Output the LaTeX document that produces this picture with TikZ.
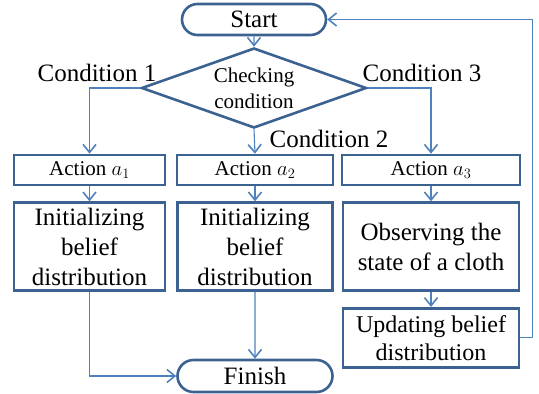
\documentclass[tikz,border=0pt]{standalone}
\usepackage{fontspec}
\setmainfont{Liberation Serif}
\usetikzlibrary{positioning,arrows.meta,shapes.geometric,shapes.misc}
\definecolor{boxblue}{RGB}{60,98,145}
\definecolor{lineblue}{RGB}{79,129,189}
\tikzset{
    block/.style = {
        draw=boxblue,
        shape=rectangle,
        line width=2.6pt,
        inner sep=0pt,
        align=center,
        font=\fontsize{25}{30}\selectfont
    },
    actbox/.style = {
        block,
        minimum height=30pt,
        font=\fontsize{21}{24}\selectfont
    },
    terminal/.style = {
        draw=boxblue,
        shape=rounded rectangle,
        line width=2.6pt,
        inner sep=0pt,
        font=\fontsize{25}{30}\selectfont
    },
    decision/.style = {
        draw=boxblue,
        shape=diamond,
        aspect=2.8,
        line width=2.6pt,
        inner sep=0pt,
        align=center,
        font=\fontsize{21}{26}\selectfont
    },
    cond/.style = {
        font=\fontsize{25}{30}\selectfont,
        inner sep=0pt
    },
    conn/.style = {
        draw=lineblue,
        line width=1.1pt,
        -{Straight Barb[length=8pt,width=13pt,line width=1.6pt]}
    },
}

\begin{document}
\begin{tikzpicture}[x=1pt,y=-1pt]
        \useasboundingbox (0,0) rectangle (539,394);

        \node[terminal, minimum width=144pt, minimum height=31pt] (start) at (254,19.5) {Start};
        \node[decision, minimum width=225pt, minimum height=80pt] (check) at (254,88) {Checking\\condition};

        \node[actbox, minimum width=151pt] (act1) at (89.5,170) {Action $a_1$};
        \node[actbox, minimum width=156pt] (act2) at (255,170) {Action $a_2$};
        \node[actbox, minimum width=178pt] (act3) at (431,170) {Action $a_3$};

        \node[block, minimum width=151pt, minimum height=88pt, below=15pt of act1.south, anchor=north] (init1) {Initializing\\belief\\distribution};
        \node[block, minimum width=155pt, minimum height=88pt, below=15pt of act2.south, anchor=north] (init2) {Initializing\\belief\\distribution};
        \node[block, minimum width=176pt, minimum height=88pt, below=15pt of act3.south, anchor=north] (observe) {Observing the\\state of a cloth};
        \node[block, minimum width=176pt, minimum height=59pt, below=15pt of observe.south, anchor=north,
              font=\fontsize{24}{28}\selectfont] (update) {Updating belief\\distribution};

        \node[terminal, minimum width=155pt, minimum height=32pt] (finish) at (255,376) {Finish};

        \node[cond] (cond1) at (97,73) {Condition 1};
        \node[cond] (cond2) at (329,139) {Condition 2};
        \node[cond] (cond3) at (422,73) {Condition 3};

        \path[conn] (start) -- (check);
        \path[conn] (check.west) -| (act1.north);
        \path[conn] (check.south) -- (act2.north);
        \path[conn] (check.east) -| (act3.north);

        \path[conn] (act1) -- (init1);
        \path[conn] (act2) -- (init2);
        \path[conn] (act3) -- (observe);
        \path[conn] (observe) -- (update);

        \path[conn] (init1.south) |- (finish.west);
        \path[conn] (init2) -- (finish);
        \path[conn] (update.east) -- ++(12,0) |- (start.east);

    \end{tikzpicture}
\end{document}
